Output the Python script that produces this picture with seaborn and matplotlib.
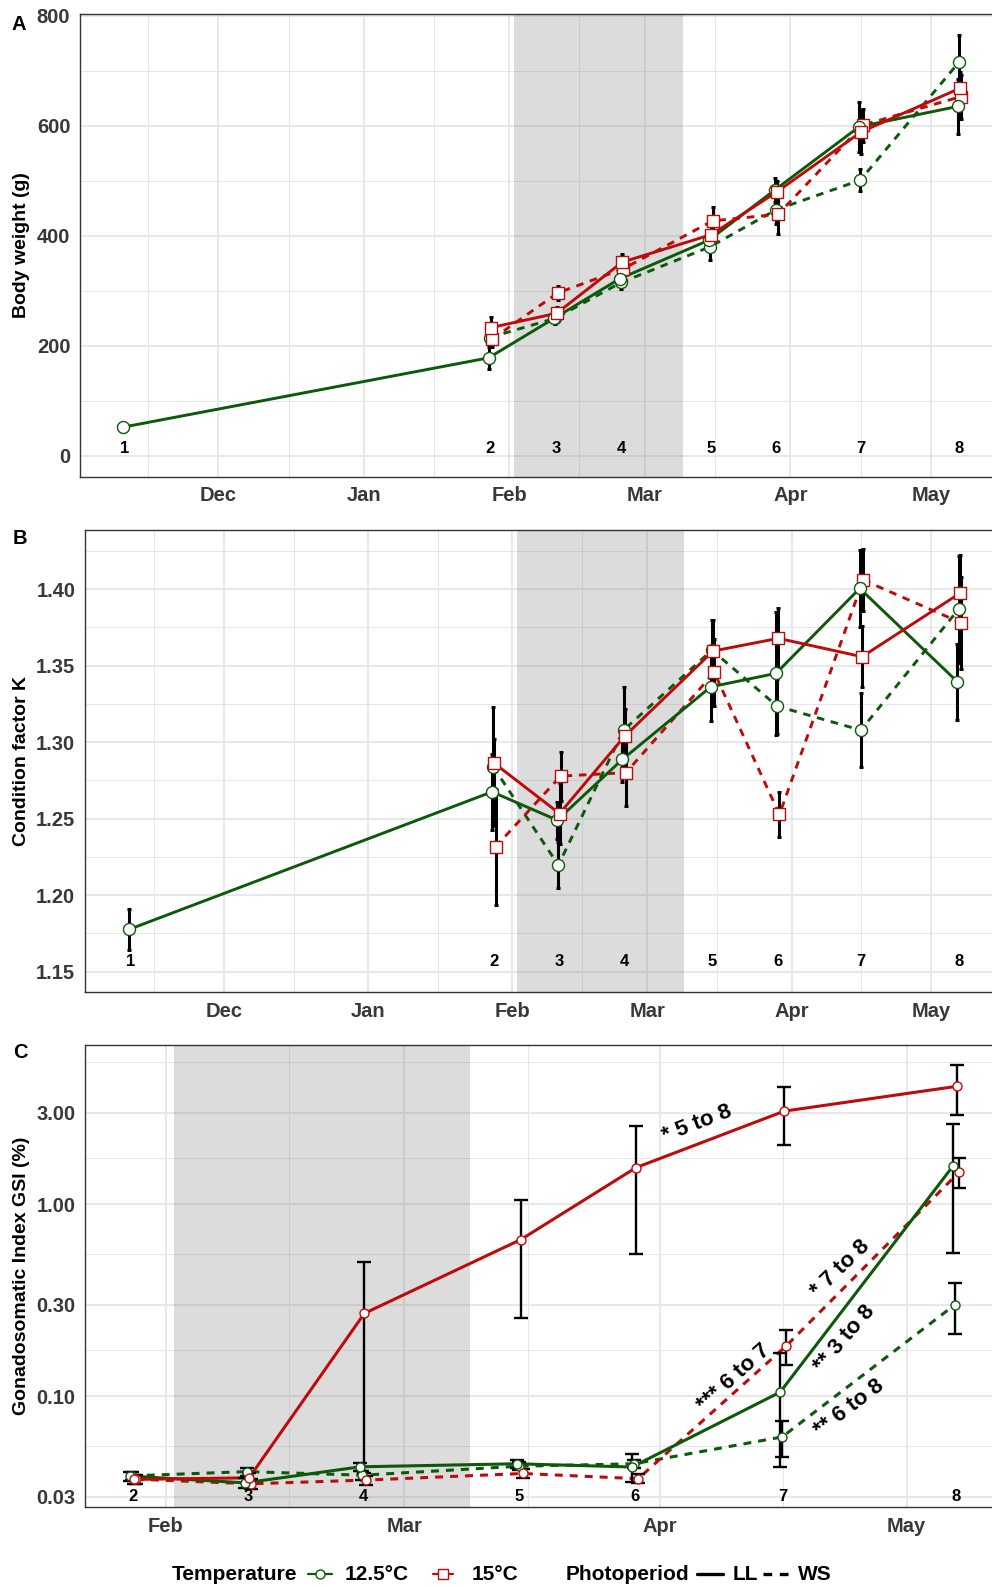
import numpy as np
import pandas as pd
import matplotlib
matplotlib.use("Agg")
import matplotlib.pyplot as plt
import matplotlib.dates as mdates
from matplotlib.lines import Line2D
from matplotlib.ticker import FixedLocator, NullFormatter
import seaborn as sns

# ---------------- data ----------------
sample_labels = ["1", "2", "3", "4", "5", "6", "7", "8"]
sample_dates = ["2019-11-11", "2020-01-28", "2020-02-11", "2020-02-25",
                "2020-03-15", "2020-03-29", "2020-04-16", "2020-05-07"]
groups = ["12.5°C WS", "15°C WS", "12.5°C LL", "15°C LL"]
group_temp = ["12.5°C", "15°C", "12.5°C", "15°C"]
group_photo = ["WS", "WS", "LL", "LL"]
shade_start = "2020-02-02"
shade_end = "2020-03-09"

# Body weight (g): mean and SE
bw_125_LL = [52, 178, 250, 322, 392, 483, 598, 635]
bw_125_WS = [np.nan, 215, 250, 315, 380, 447, 501, 715]
bw_15_LL = [np.nan, 233, 259, 352, 402, 480, 589, 668]
bw_15_WS = [np.nan, 212, 296, 340, 427, 439, 601, 653]
bw_se_125_LL = [6, 20, 8, 10, 15, 22, 45, 50]
bw_se_125_WS = [np.nan, 15, 10, 12, 25, 25, 20, 50]
bw_se_15_LL = [np.nan, 20, 12, 15, 15, 20, 40, 30]
bw_se_15_WS = [np.nan, 15, 12, 15, 25, 35, 30, 40]

# Condition factor K
k_125_LL = [1.1776, 1.2675, 1.2490, 1.2887, 1.3361, 1.3449, 1.4004, 1.3394]
k_125_WS = [np.nan, 1.2839, 1.2196, 1.3078, 1.3601, 1.3235, 1.3078, 1.3869]
k_15_LL = [np.nan, 1.2861, 1.2533, 1.3039, 1.3595, 1.3678, 1.3558, 1.3972]
k_15_WS = [np.nan, 1.2316, 1.2778, 1.2800, 1.3455, 1.2527, 1.4059, 1.3780]
k_se_125_LL = [0.0135, 0.025, 0.012, 0.015, 0.022, 0.040, 0.025, 0.025]
k_se_125_WS = [np.nan, 0.039, 0.015, 0.028, 0.020, 0.018, 0.024, 0.035]
k_se_15_LL = [np.nan, 0.016, 0.020, 0.018, 0.020, 0.020, 0.020, 0.025]
k_se_15_WS = [np.nan, 0.038, 0.016, 0.022, 0.022, 0.015, 0.020, 0.030]

# Gonadosomatic index GSI (%)
gsi_125_LL = [np.nan, 0.0384, 0.0354, 0.0429, 0.0445, 0.0428, 0.105, 1.58]
gsi_125_WS = [np.nan, 0.0385, 0.0405, 0.0388, 0.0432, 0.0445, 0.0614, 0.30]
gsi_15_LL = [np.nan, 0.0369, 0.0376, 0.270, 0.654, 1.55, 3.05, 4.11]
gsi_15_WS = [np.nan, 0.0370, 0.0350, 0.0366, 0.0396, 0.0372, 0.183, 1.47]
gsi_se_125_LL = [np.nan, 0.002, 0.002, 0.002, 0.002, 0.007, 0.062, 1.02]
gsi_se_125_WS = [np.nan, 0.002, 0.002, 0.002, 0.002, 0.002, 0.013, 0.09]
gsi_se_15_LL = [np.nan, 0.002, 0.002, 0.230, 0.400, 1.00, 1.02, 1.20]
gsi_se_15_WS = [np.nan, 0.002, 0.002, 0.002, 0.002, 0.002, 0.038, 0.26]

gsi_notes = ["* 5 to 8", "*** 6 to 7", "* 7 to 8", "** 3 to 8", "** 6 to 8"]
gsi_note_dates = ["2020-04-05 12:00", "2020-04-10", "2020-04-23", "2020-04-23 12:00",
                  "2020-04-24"]
gsi_note_values = [2.62, 0.125, 0.46, 0.20, 0.087]
gsi_note_angles = [21, 42, 44, 49, 37]

# ---------------- style ----------------
sns.set_style("white")
plt.rcParams["font.family"] = ["Liberation Sans", "DejaVu Sans"]
plt.rcParams["font.weight"] = "bold"

GREEN = "#0A5A0A"
RED = "#BE0A0A"
colors = {"12.5°C": GREEN, "15°C": RED}
dash_map = {"LL": "-", "WS": (0, (2.6, 2.3))}
marker_map = {"12.5°C": "o", "15°C": "s"}
dodge = {"12.5°C LL": -0.35, "12.5°C WS": -0.1, "15°C LL": 0.15, "15°C WS": 0.4}
TICKC = "#383838"
GRIDC = "#E6E6E6"

W, H = 992, 1587
fig = plt.figure(figsize=(W / 100, H / 100), dpi=100)


def add_ax(l, t, r, b):
    return fig.add_axes([l / W, 1 - b / H, (r - l) / W, (b - t) / H])


def long_frame(series, ses):
    rows = []
    for g, t, p, m, s in zip(groups, group_temp, group_photo, series, ses):
        for lab, d, mv, sv in zip(sample_labels, sample_dates, m, s):
            if np.isnan(mv):
                continue
            rows.append(dict(sample=lab, date=pd.Timestamp(d), group=g, temp=t,
                             photo=p, mean=mv, se=sv))
    df = pd.DataFrame(rows)
    df["xd"] = df["date"] + pd.to_timedelta(df["group"].map(dodge), unit="D")
    return df


def draw(ax, df, msize, all_circles, ebar_lw, capsize, lw):
    for g in groups:
        sub = df[df["group"] == g]
        t = sub["temp"].iloc[0]
        p = sub["photo"].iloc[0]
        col = colors[t]
        sns.lineplot(data=sub, x="xd", y="mean", ax=ax, color=col, lw=lw,
                     linestyle=dash_map[p], errorbar=None, zorder=2,
                     legend=False)
    for g in groups:
        sub = df[df["group"] == g]
        ax.errorbar(sub["xd"], sub["mean"], yerr=sub["se"], fmt="none",
                    ecolor="black", elinewidth=ebar_lw, capsize=capsize,
                    capthick=ebar_lw, zorder=3)
    for g in groups:
        sub = df[df["group"] == g]
        t = sub["temp"].iloc[0]
        col = colors[t]
        mk = "o" if all_circles else marker_map[t]
        sns.scatterplot(data=sub, x="xd", y="mean", ax=ax, marker=mk,
                        s=msize, color="white", edgecolor=col, linewidth=1.0,
                        zorder=4, legend=False)


def style_ax(ax):
    ax.set_axisbelow(True)
    ax.grid(True, which="major", color=GRIDC, lw=1.3)
    ax.grid(True, which="minor", color=GRIDC, lw=0.7)
    for sp in ax.spines.values():
        sp.set_color("#333333")
        sp.set_linewidth(1.0)
    ax.xaxis.set_major_locator(mdates.MonthLocator(bymonthday=1))
    ax.xaxis.set_major_formatter(mdates.DateFormatter("%b"))
    ax.xaxis.set_minor_locator(mdates.MonthLocator(bymonthday=16))
    ax.tick_params(which="major", direction="out", length=4, width=1,
                   color="#333333", labelcolor=TICKC, labelsize=14.5, pad=3)
    ax.tick_params(which="minor", length=0)
    for lab in ax.get_xticklabels() + ax.get_yticklabels():
        lab.set_fontweight("bold")
    ax.set_xlabel("")
    ax.set_ylabel("")
    ax.axvspan(pd.Timestamp(shade_start), pd.Timestamp(shade_end),
               color="#7F7F7F", alpha=0.27, lw=0, zorder=1)


def set_xlim(ax, left_px, ref_date, ref_px, ppd, right_px=1000):
    r = mdates.date2num(pd.Timestamp(ref_date))
    ax.set_xlim(r - (ref_px - left_px) / ppd, r + (right_px - ref_px) / ppd)


# ---------------- panel A ----------------
axA = add_ax(80, 14, 1000, 476.7)
dfA = long_frame([bw_125_WS, bw_15_WS, bw_125_LL, bw_15_LL],
                 [bw_se_125_WS, bw_se_15_WS, bw_se_125_LL, bw_se_15_LL])
draw(axA, dfA, 75, False, 2.2, 1.5, 2.1)
style_ax(axA)
set_xlim(axA, 80, "2020-02-01", 509, 4.69)
axA.set_ylim(-38, 803)
axA.yaxis.set_major_locator(FixedLocator([0, 200, 400, 600, 800]))
axA.yaxis.set_minor_locator(FixedLocator([100, 300, 500, 700]))
axA.set_yticklabels(["0", "200", "400", "600", "800"], fontweight="bold")
for lab, d in zip(sample_labels, sample_dates):
    axA.text(pd.Timestamp(d), 14, lab, ha="center", va="center",
             fontsize=12, fontweight="bold", color="black", zorder=5)

# ---------------- panel B ----------------
axB = add_ax(85, 530, 1000, 992)
dfB = long_frame([k_125_WS, k_15_WS, k_125_LL, k_15_LL],
                 [k_se_125_WS, k_se_15_WS, k_se_125_LL, k_se_15_LL])
draw(axB, dfB, 75, False, 2.2, 1.5, 2.1)
style_ax(axB)
set_xlim(axB, 85, "2020-02-01", 512.3, 4.654)
axB.set_ylim(1.1367, 1.4386)
kt = [1.15, 1.20, 1.25, 1.30, 1.35, 1.40]
axB.yaxis.set_major_locator(FixedLocator(kt))
axB.yaxis.set_minor_locator(FixedLocator([1.175, 1.225, 1.275, 1.325, 1.375, 1.425]))
axB.set_yticklabels([f"{v:.2f}" for v in kt], fontweight="bold")
for lab, d in zip(sample_labels, sample_dates):
    axB.text(pd.Timestamp(d), 1.1565, lab, ha="center", va="center",
             fontsize=12, fontweight="bold", color="black", zorder=5)

# ---------------- panel C ----------------
axC = add_ax(85, 1045, 1000, 1507)
dfC = long_frame([gsi_125_WS, gsi_15_WS, gsi_125_LL, gsi_15_LL],
                 [gsi_se_125_WS, gsi_se_15_WS, gsi_se_125_LL, gsi_se_15_LL])
axC.set_yscale("log")
draw(axC, dfC, 42, True, 1.7, 5, 2.2)
style_ax(axC)
set_xlim(axC, 85, "2020-03-01", 404.3, 8.233)
axC.set_ylim(0.0265, 6.74)
ct = [0.03, 0.10, 0.30, 1.00, 3.00]
axC.yaxis.set_major_locator(FixedLocator(ct))
axC.yaxis.set_minor_locator(FixedLocator([0.0548, 0.1732, 0.5477, 1.732, 5.477]))
axC.yaxis.set_minor_formatter(NullFormatter())
axC.set_yticklabels([f"{v:.2f}" for v in ct], fontweight="bold")
for lab, d in zip(sample_labels[1:], sample_dates[1:]):
    axC.text(pd.Timestamp(d), 0.0300, lab, ha="center", va="center",
             fontsize=12, fontweight="bold", color="black", zorder=5)
for txt, d, v, a in zip(gsi_notes, gsi_note_dates, gsi_note_values, gsi_note_angles):
    axC.text(pd.Timestamp(d), v, txt, rotation=a, ha="center", va="center",
             rotation_mode="anchor", fontsize=16, fontweight="bold",
             color="black", zorder=6)

# ---------------- labels ----------------
fig.text(22 / W, 1 - 245 / H, "Body weight (g)", rotation=90, ha="center",
         va="center", fontsize=14, fontweight="bold", color="black")
fig.text(22 / W, 1 - 761 / H, "Condition factor K", rotation=90, ha="center",
         va="center", fontsize=14, fontweight="bold", color="black")
fig.text(22 / W, 1 - 1276 / H, "Gonadosomatic Index GSI (%)", rotation=90,
         ha="center", va="center", fontsize=14, fontweight="bold", color="black")
for letter, (x, y) in zip(["A", "B", "C"], [(19, 24), (20, 538), (20, 1053)]):
    fig.text(x / W, 1 - y / H, letter, ha="center", va="center", fontsize=14.5,
             fontweight="bold", color="black")

# ---------------- legend ----------------
ly = 1 - 1574 / H


def ftxt(x, s):
    fig.text(x / W, ly, s, ha="left", va="center", fontsize=15,
             fontweight="bold", color="black")


def fline(x0, x1, col, ls, lw, marker=None, ec=None):
    fig.add_artist(Line2D([x0 / W, x1 / W], [ly, ly], transform=fig.transFigure,
                          color=col, linestyle=ls, lw=lw))
    if marker:
        fig.add_artist(Line2D([(x0 + x1) / 2 / W], [ly], transform=fig.transFigure,
                              marker=marker, markersize=6.5, markerfacecolor="white",
                              markeredgecolor=ec, markeredgewidth=1.0, lw=0))


ftxt(172, "Temperature")
fline(308, 332, GREEN, "-", 1.6, "o", GREEN)
ftxt(345, "12.5°C")
fline(433, 453, RED, "-", 1.6, "s", RED)
ftxt(472, "15°C")
ftxt(566, "Photoperiod")
fline(697, 723, "black", "-", 2.4)
ftxt(733, "LL")
fline(763, 790, "black", (0, (2.6, 2.3)), 2.4)
ftxt(798, "WS")

fig.savefig("out.png", dpi=100)
